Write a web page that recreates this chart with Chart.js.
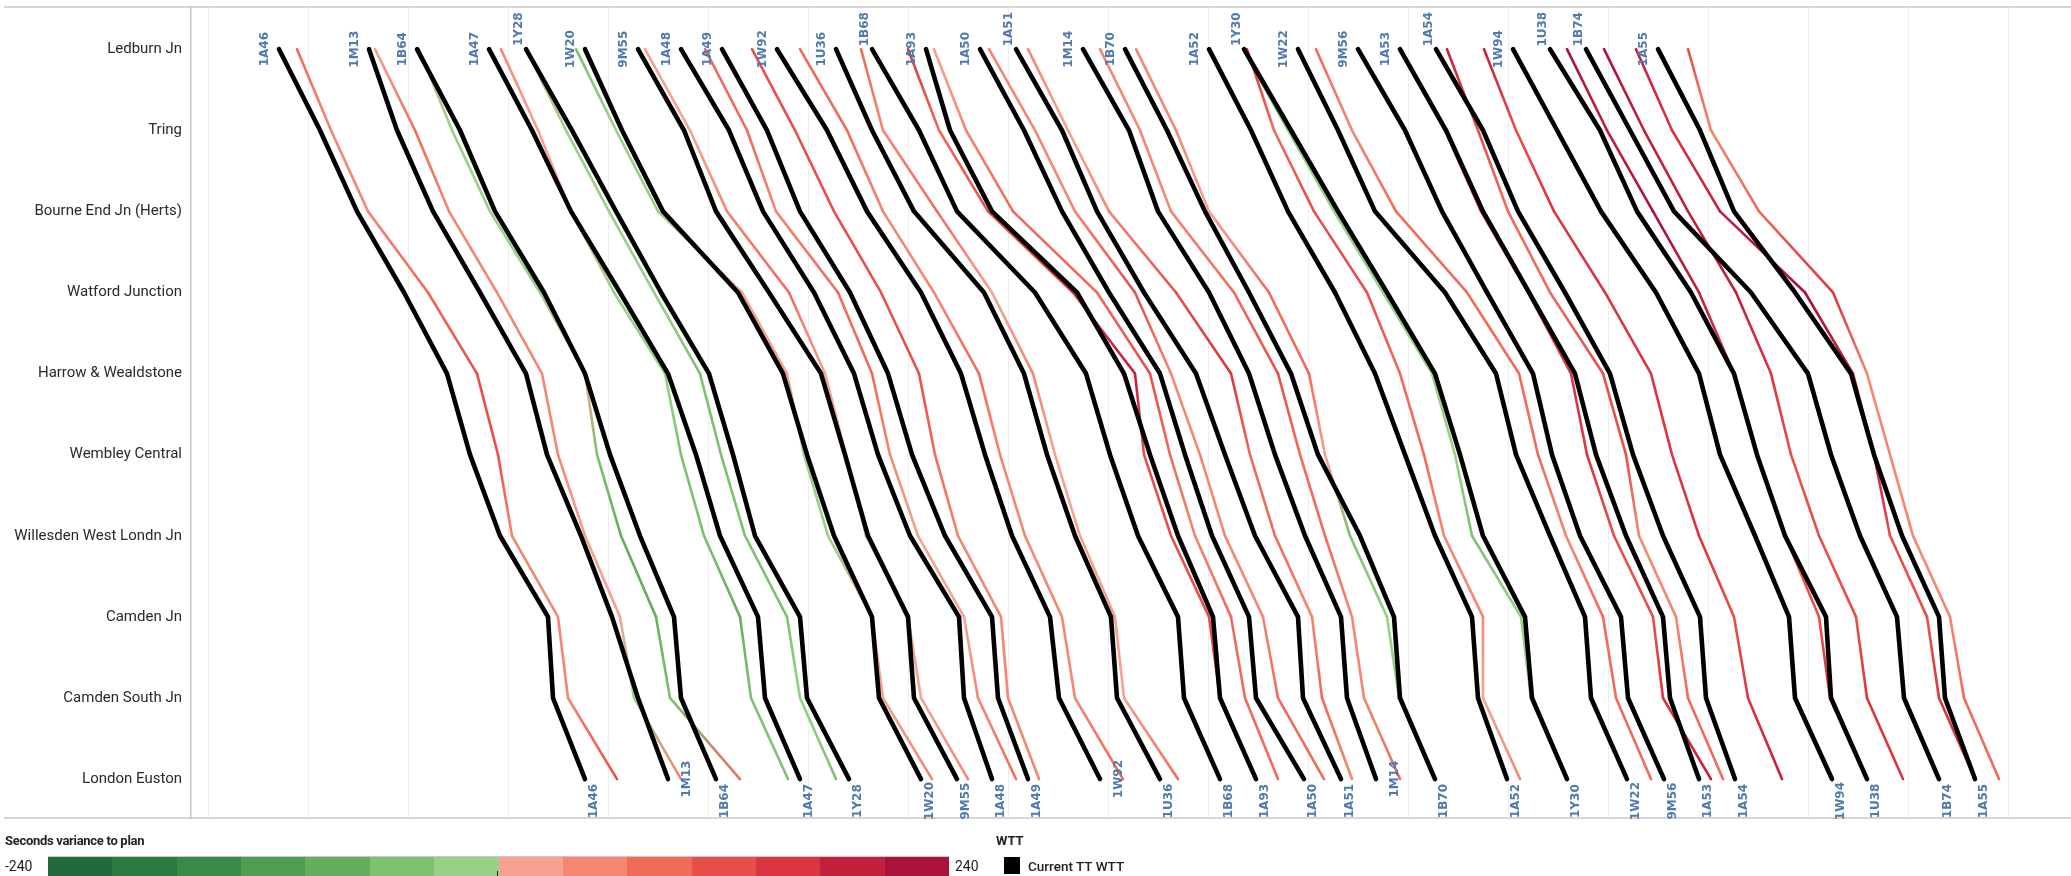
<!DOCTYPE html>
<html>
<head>
<meta charset="utf-8">
<title>Ledburn Jn - London Euston train graph</title>
<script src="https://cdn.jsdelivr.net/npm/chart.js@4.4.1/dist/chart.umd.min.js"></script>
<style>
  html, body { margin: 0; padding: 0; background: #fff; }
  #wrap { position: relative; width: 2071px; height: 876px; overflow: hidden; font-family: Roboto, 'Noto Sans', sans-serif; }
  #graph { position: absolute; left: 0; top: 0; }
  .lg { position: absolute; color: #222; white-space: nowrap; line-height: 1; }
  #ramp { position: absolute; left: 48px; top: 856px; width: 901px; height: 20px; display: flex; border-top: 1px solid #c9c9c9; }
  #ramp div { flex: 1; }
</style>
</head>
<body>
<div id="wrap">
  <canvas id="graph" width="2071" height="876"></canvas>
  <div class="lg" style="left:5px;top:834px;font-size:13px;font-weight:bold;letter-spacing:-0.3px;">Seconds variance to plan</div>
  <div class="lg" id="rampMin" style="left:5px;top:859px;font-size:14px;"></div>
  <div id="ramp"></div>
  <div style="position:absolute;left:497px;top:871px;width:1px;height:5px;background:#222;"></div>
  <div class="lg" id="rampMax" style="left:955px;top:859px;font-size:14px;"></div>
  <div class="lg" style="left:996px;top:834px;font-size:13px;font-weight:bold;">WTT</div>
  <div style="position:absolute;left:1004px;top:857px;width:16px;height:17px;background:#000;"></div>
  <div class="lg" style="left:1028px;top:860px;font-size:13.5px;font-weight:500;">Current TT WTT</div>
</div>
<script>
// stations, top of the graph to bottom
const stations = ['Ledburn Jn', 'Tring', 'Bourne End Jn (Herts)', 'Watford Junction', 'Harrow & Wealdstone',
  'Wembley Central', 'Willesden West Londn Jn', 'Camden Jn', 'Camden South Jn', 'London Euston'];

const trainIds = ['1A46', '1M13', '1B64', '1A47', '1Y28', '1W20', '9M55', '1A48', '1A49', '1W92', '1U36', '1B68',
  '1A93', '1A50', '1A51', '1M14', '1B70', '1A52', '1Y30', '1W22', '9M56', '1A53', '1A54', '1W94', '1U38', '1B74', '1A55'];

// seconds after 07:00:00, one row per train, one value per station
const wttTimes = [
  [282, 446, 594, 782, 954, 1046, 1166, 1358, 1378, 1506],
  [642, 754, 898, 1086, 1270, 1354, 1490, 1614, 1718, 1838],
  [834, 1006, 1146, 1342, 1506, 1606, 1726, 1862, 1890, 2030],
  [1122, 1294, 1450, 1646, 1838, 1950, 2046, 2198, 2226, 2366],
  [1270, 1454, 1630, 1810, 2002, 2098, 2186, 2366, 2394, 2562],
  [1506, 1654, 1818, 2118, 2298, 2394, 2502, 2654, 2682, 2850],
  [1718, 1902, 2030, 2242, 2450, 2546, 2638, 2798, 2822, 2994],
  [1890, 2082, 2218, 2422, 2582, 2678, 2806, 3002, 3022, 3134],
  [2054, 2234, 2366, 2566, 2718, 2814, 2946, 3134, 3158, 3278],
  [2274, 2474, 2634, 2850, 3010, 3106, 3214, 3366, 3402, 3566],
  [2510, 2654, 2822, 3102, 3262, 3354, 3466, 3610, 3634, 3806],
  [2654, 2842, 2994, 3306, 3510, 3606, 3718, 3878, 3902, 4046],
  [2870, 2966, 3134, 3474, 3662, 3766, 3878, 4018, 4046, 4190],
  [3086, 3262, 3414, 3602, 3806, 3906, 4014, 4162, 4190, 4382],
  [3230, 3414, 3554, 3742, 3950, 4066, 4186, 4358, 4378, 4530],
  [3498, 3682, 3798, 4002, 4162, 4266, 4386, 4530, 4554, 4670],
  [3666, 3834, 3986, 4162, 4330, 4438, 4606, 4742, 4766, 4906],
  [4002, 4170, 4318, 4506, 4666, 4786, 4906, 5054, 5078, 5194],
  [4142, 4330, 4518, 4714, 4906, 5006, 5098, 5266, 5294, 5434],
  [4358, 4518, 4666, 4946, 5150, 5230, 5366, 5506, 5530, 5674],
  [4598, 4786, 4934, 5114, 5298, 5374, 5486, 5650, 5678, 5822],
  [4766, 4950, 5098, 5282, 5466, 5550, 5670, 5818, 5846, 5962],
  [4910, 5098, 5238, 5426, 5606, 5698, 5818, 5966, 5990, 6106],
  [5218, 5394, 5570, 5790, 5962, 6046, 6186, 6322, 6346, 6494],
  [5366, 5566, 5714, 5930, 6102, 6194, 6306, 6470, 6490, 6634],
  [5510, 5686, 5862, 6170, 6398, 6490, 6606, 6754, 6782, 6922],
  [5798, 5966, 6102, 6346, 6570, 6662, 6774, 6922, 6946, 7066]
];

const actualTimes = [
  [354, 490, 638, 878, 1074, 1158, 1214, 1398, 1438, 1634],
  [666, 826, 962, 1154, 1334, 1398, 1506, 1646, 1702, 1890],
  [842, 974, 1126, 1326, 1506, 1554, 1650, 1790, 1846, 2126],
  [1170, 1318, 1450, 1622, 1826, 1890, 1982, 2126, 2170, 2318],
  [1270, 1430, 1602, 1782, 1966, 2050, 2146, 2314, 2366, 2510],
  [1470, 1630, 1798, 2134, 2314, 2382, 2478, 2654, 2698, 2894],
  [1746, 1926, 2074, 2322, 2466, 2550, 2630, 2798, 2850, 3038],
  [1986, 2154, 2270, 2518, 2654, 2726, 2838, 3022, 3078, 3230],
  [2174, 2346, 2502, 2690, 2842, 2906, 2998, 3170, 3198, 3322],
  [2366, 2554, 2698, 2902, 3082, 3166, 3266, 3414, 3466, 3658],
  [2610, 2698, 2914, 3134, 3298, 3386, 3486, 3626, 3662, 3878],
  [2798, 2922, 3118, 3458, 3706, 3742, 3850, 4002, 4046, 4190],
  [2902, 3030, 3218, 3554, 3766, 3846, 3946, 4090, 4146, 4278],
  [3122, 3306, 3466, 3706, 3850, 3966, 4066, 4218, 4278, 4462],
  [3278, 3438, 3602, 3870, 4090, 4166, 4266, 4414, 4454, 4574],
  [3566, 3726, 3850, 4102, 4278, 4366, 4466, 4574, 4622, 4766],
  [3710, 3870, 4002, 4242, 4402, 4466, 4566, 4714, 4762, 4906],
  [4154, 4262, 4422, 4634, 4766, 4862, 4942, 5098, 5098, 5246],
  [4138, 4318, 4502, 4698, 4894, 4986, 5054, 5250, 5290, 5434],
  [4430, 4574, 4750, 5034, 5242, 5318, 5430, 5578, 5630, 5770],
  [4762, 4946, 5090, 5278, 5450, 5514, 5622, 5778, 5818, 6010],
  [4954, 5078, 5198, 5366, 5578, 5670, 5722, 5870, 5918, 6058],
  [5102, 5230, 5382, 5586, 5770, 5854, 5962, 6102, 6158, 6294],
  [5434, 5594, 5778, 5962, 6102, 6194, 6306, 6442, 6486, 6634],
  [5582, 5742, 5918, 6110, 6250, 6330, 6442, 6590, 6634, 6778],
  [5710, 5854, 6046, 6386, 6578, 6662, 6726, 6874, 6922, 7066],
  [5918, 6010, 6202, 6498, 6634, 6726, 6818, 6966, 7022, 7162]
];

const varianceRange = [-240, 240];

// stepped red-green palette, early (green) to late (red)
const palette = ['#226a3c', '#2b7a3f', '#3b8a4a', '#519c53', '#66ae5e', '#7dc171', '#96d186',
  '#f8a191', '#f5866f', '#f06b58', '#e84f4a', '#db3541', '#c41f3b', '#a9133a'];

// labels that Tableau nudged off their default spot
const raisedTop = ['1Y28', '1B68', '1A51', '1Y30', '1A54', '1U38', '1B74'];
const raisedBottom = ['1M13', '1W92', '1M14'];

function varianceColor(sec) {
  const step = (varianceRange[1] - varianceRange[0]) / palette.length;
  let i = Math.floor((sec - varianceRange[0]) / step);
  i = Math.max(0, Math.min(palette.length - 1, i));
  return palette[i];
}

// legend ramp
document.getElementById('rampMin').textContent = varianceRange[0];
document.getElementById('rampMax').textContent = varianceRange[1];
const ramp = document.getElementById('ramp');
palette.forEach(c => {
  const d = document.createElement('div');
  d.style.background = c;
  ramp.appendChild(d);
});

Chart.defaults.font.family = "Roboto, 'Noto Sans', sans-serif";

const datasets = [];
trainIds.forEach((id, t) => {
  datasets.push({
    label: id + ' actual',
    kind: 'actual',
    train: t,
    data: actualTimes[t].map((v, i) => ({x: v, y: i})),
    borderColor: palette[8],
    borderWidth: 2.6,
    order: 2,
    segment: {
      borderColor: c => {
        const tr = c.chart.data.datasets[c.datasetIndex].train;
        const v0 = actualTimes[tr][c.p0DataIndex] - wttTimes[tr][c.p0DataIndex];
        const v1 = actualTimes[tr][c.p1DataIndex] - wttTimes[tr][c.p1DataIndex];
        const a = varianceColor(v0), b = varianceColor(v1);
        if (a === b) return a;
        const g = c.chart.ctx.createLinearGradient(c.p0.x, c.p0.y, c.p1.x, c.p1.y);
        g.addColorStop(0, a);
        g.addColorStop(1, b);
        return g;
      }
    }
  });
  datasets.push({
    label: id + ' WTT',
    kind: 'wtt',
    train: t,
    data: wttTimes[t].map((v, i) => ({x: v, y: i})),
    borderColor: '#000',
    borderWidth: 4.6,
    order: 1
  });
});

function drawUpright(ctx, text, x, y) {
  ctx.save();
  ctx.translate(x, y);
  ctx.rotate(-Math.PI / 2);
  ctx.fillText(text, 0, 0);
  ctx.restore();
}

const trainLabels = {
  id: 'trainLabels',
  afterDatasetsDraw(chart) {
    const ctx = chart.ctx;
    ctx.save();
    ctx.fillStyle = '#5079ac';
    ctx.font = "bold 12px 'DejaVu Sans'";
    ctx.textAlign = 'center';
    ctx.textBaseline = 'middle';
    chart.data.datasets.forEach((ds, i) => {
      if (ds.kind !== 'wtt') return;
      const pts = chart.getDatasetMeta(i).data;
      const first = pts[0], last = pts[pts.length - 1];
      const id = trainIds[ds.train];
      if (raisedTop.includes(id)) drawUpright(ctx, id, first.x - 7.5, first.y - 20);
      else drawUpright(ctx, id, first.x - 14, first.y);
      if (raisedBottom.includes(id)) drawUpright(ctx, id, last.x + 19, last.y);
      else drawUpright(ctx, id, last.x + 9, last.y + 22);
    });
    ctx.restore();
  }
};

const frameLines = {
  id: 'frameLines',
  beforeDraw(chart) {
    const {ctx, chartArea} = chart;
    ctx.save();
    ctx.strokeStyle = '#d6d6d6';
    ctx.lineWidth = 2;
    ctx.beginPath();
    ctx.moveTo(4, chartArea.top);
    ctx.lineTo(chart.width, chartArea.top);
    ctx.moveTo(4, chartArea.bottom);
    ctx.lineTo(chart.width, chartArea.bottom);
    ctx.stroke();
    ctx.restore();
  }
};

new Chart(document.getElementById('graph'), {
  type: 'line',
  data: {datasets},
  options: {
    responsive: false,
    animation: false,
    events: [],
    layout: {padding: {left: 0, right: 0, top: 7, bottom: 58}},
    elements: {point: {radius: 0}, line: {tension: 0, borderJoinStyle: 'round', borderCapStyle: 'round'}},
    plugins: {legend: {display: false}, tooltip: {enabled: false}},
    scales: {
      x: {
        type: 'linear',
        min: -70,
        max: 7450,
        afterBuildTicks: s => {
          const ticks = [];
          for (let v = 0; v <= 7200; v += 400) ticks.push({value: v});
          s.ticks = ticks;
        },
        afterFit: s => {
          s.height = 0;
          s.paddingLeft = 0; s.paddingRight = 0; s.paddingTop = 0; s.paddingBottom = 0;
        },
        ticks: {display: false},
        border: {display: false},
        grid: {color: '#eeeeee', lineWidth: 1, drawTicks: false}
      },
      y: {
        type: 'linear',
        reverse: true,
        min: -0.52,
        max: 9.48,
        afterBuildTicks: s => { s.ticks = stations.map((_, i) => ({value: i})); },
        afterFit: s => {
          s.width = 191;
          s.paddingTop = 0; s.paddingBottom = 0;
        },
        ticks: {
          padding: 9,
          color: '#2a2a2a',
          font: {size: 15},
          callback: v => stations[v]
        },
        border: {display: true, color: '#c8c8c8', width: 1.5},
        grid: {display: false, drawTicks: false}
      }
    }
  },
  plugins: [frameLines, trainLabels]
});
</script>
</body>
</html>
